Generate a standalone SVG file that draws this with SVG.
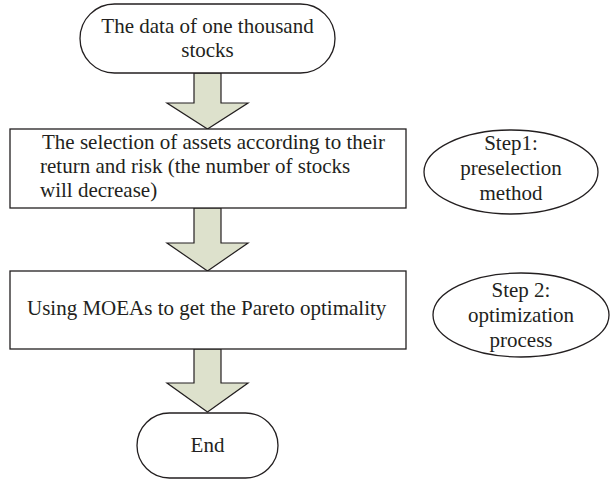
<svg xmlns="http://www.w3.org/2000/svg" width="611" height="480" viewBox="0 0 611 480">
<style>
.shape{fill:#fff;stroke:#231f20;stroke-width:1.3}
.arrow{fill:#dde1cc;stroke:#231f20;stroke-width:1.2;stroke-linejoin:miter}
text{font-family:"Liberation Serif","Times New Roman",serif;font-size:21px;fill:#231f20}
.c{text-anchor:middle}
</style>
<rect width="611" height="480" fill="#fff"/>
<g id="connectors">
<polygon class="arrow" points="194,73 221,73 221,103 248,103 207.5,129 167,103 194,103"/>
<polygon class="arrow" points="194,208 221,208 221,243 248,243 207.5,271 167,243 194,243"/>
<polygon class="arrow" points="194,349 221,349 221,383 248,383 207.5,412 167,383 194,383"/>
</g>
<g id="start">
<rect class="shape" x="80" y="4" width="255" height="69" rx="34.5" ry="34.5"/>
<text class="c" x="207.5" y="33">The data of one thousand</text>
<text class="c" x="207.5" y="57">stocks</text>
</g>
<g id="selection">
<rect class="shape" x="10" y="129" width="396" height="79"/>
<text x="42" y="149">The selection of assets according to their</text>
<text x="40" y="173">return and risk (the number of stocks</text>
<text x="40" y="197">will decrease)</text>
</g>
<g id="step1">
<ellipse class="shape" cx="511" cy="172" rx="87" ry="42"/>
<text class="c" x="511" y="150">Step1:</text>
<text class="c" x="511" y="175">preselection</text>
<text class="c" x="511" y="200">method</text>
</g>
<g id="moeas">
<rect class="shape" x="10" y="271" width="396" height="78"/>
<text x="27" y="315">Using MOEAs to get the Pareto optimality</text>
</g>
<g id="step2">
<ellipse class="shape" cx="521" cy="315" rx="88" ry="42"/>
<text class="c" x="521" y="297">Step 2:</text>
<text class="c" x="521" y="322">optimization</text>
<text class="c" x="521" y="347">process</text>
</g>
<g id="end">
<rect class="shape" x="137" y="413" width="141" height="65" rx="32.5" ry="32.5"/>
<text class="c" x="207.5" y="452">End</text>
</g>
</svg>
